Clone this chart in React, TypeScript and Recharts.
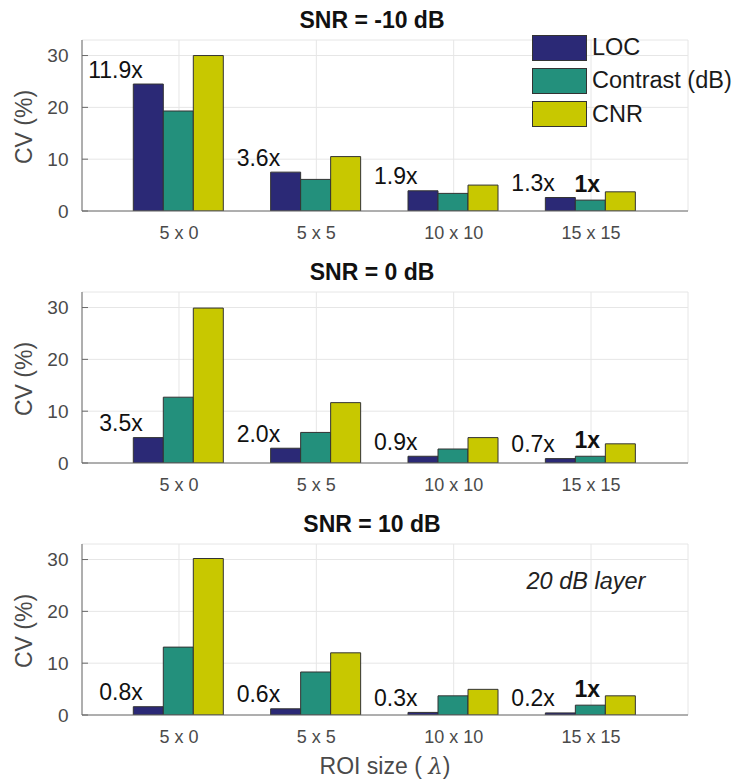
import React from 'react';
import { BarChart, Bar, XAxis, YAxis, CartesianGrid, Legend, LabelList } from 'recharts';

const categories = ['5 x 0', '5 x 5', '10 x 10', '15 x 15'];
const seriesNames = ['LOC', 'Contrast (dB)', 'CNR'];
const seriesColors = ['#2b2976', '#23907c', '#c8c800'];
const yTicks = [0, 10, 20, 30];

const snrM10Loc = [24.5, 7.5, 3.9, 2.6];
const snrM10Contrast = [19.3, 6.1, 3.4, 2.1];
const snrM10Cnr = [30.0, 10.5, 5.0, 3.7];
const snrM10Ratio = ['11.9x', '3.6x', '1.9x', '1.3x'];

const snr0Loc = [4.9, 2.85, 1.3, 0.85];
const snr0Contrast = [12.7, 5.9, 2.7, 1.3];
const snr0Cnr = [29.9, 11.65, 4.9, 3.7];
const snr0Ratio = ['3.5x', '2.0x', '0.9x', '0.7x'];

const snr10Loc = [1.6, 1.2, 0.5, 0.4];
const snr10Contrast = [13.1, 8.3, 3.7, 1.9];
const snr10Cnr = [30.2, 12.0, 4.95, 3.7];
const snr10Ratio = ['0.8x', '0.6x', '0.3x', '0.2x'];

const referenceMarks = ['', '', '', '1x'];
const panelTitles = ['SNR = -10 dB', 'SNR = 0 dB', 'SNR = 10 dB'];

const FONT = '"Liberation Sans", Arial, Helvetica, sans-serif';

const buildRows = (loc: number[], contrast: number[], cnr: number[], ratio: string[]) =>
  categories.map((c, i) => ({ cat: c, loc: loc[i], contrast: contrast[i], cnr: cnr[i], ratio: ratio[i], refMark: referenceMarks[i] }));

const panels = [
  buildRows(snrM10Loc, snrM10Contrast, snrM10Cnr, snrM10Ratio),
  buildRows(snr0Loc, snr0Contrast, snr0Cnr, snr0Ratio),
  buildRows(snr10Loc, snr10Contrast, snr10Cnr, snr10Ratio),
];

const renderYTick = (props: any) => {
  const { x, y, payload } = props;
  return (
    <g>
      <line x1={x} x2={x + 6} y1={y} y2={y} stroke="#6a6a6a" strokeWidth={1} />
      <text x={x - 13.5} y={y} dy="0.36em" textAnchor="end" fontSize={19} fill="#4a4a4a" fontFamily={FONT}>
        {payload.value}
      </text>
    </g>
  );
};

const renderXTick = (props: any) => {
  const { x, y, payload } = props;
  return (
    <text x={x} y={y + 28} textAnchor="middle" fontSize={18} fill="#4a4a4a" fontFamily={FONT}>
      {payload.value}
    </text>
  );
};

const renderRatio = (props: any) => {
  const { x, y, width, value } = props;
  if (!value) return null;
  return (
    <text x={Number(x) + Number(width) / 2 - 5.5} y={Number(y) - 6.5} textAnchor="end" fontSize={23} fill="#111" fontFamily={FONT}>
      {value}
    </text>
  );
};

const renderRefMark = (props: any) => {
  const { x, y, width, value } = props;
  if (!value) return null;
  return (
    <text x={Number(x) + Number(width) / 2 - 3} y={Number(y) - 8} textAnchor="middle" fontSize={23} fontWeight="bold" fill="#111" fontFamily={FONT}>
      {value}
    </text>
  );
};

const renderLegend = () => (
  <div style={{ fontFamily: FONT }}>
    {seriesNames.map((n, i) => (
      <div key={n} style={{ display: 'flex', alignItems: 'center', height: 25, marginBottom: 8.3 }}>
        <div style={{ width: 53, height: 24, background: seriesColors[i], border: '1px solid #333' }} />
        <span style={{ marginLeft: 5, fontSize: 23.5, color: '#1a1a1a', lineHeight: '25px', whiteSpace: 'nowrap' }}>{n}</span>
      </div>
    ))}
  </div>
);

const Panel = ({ index }: { index: number }) => {
  const data = panels[index];
  const last = index === 2;
  const height = last ? 279 : 252;
  return (
    <div style={{ position: 'absolute', left: 0, top: index * 252 }}>
      <BarChart
        width={741}
        height={height}
        data={data}
        margin={{ top: 40, right: 53, left: 0, bottom: 0 }}
        barCategoryGap={23}
        barGap={0}
      >
        <CartesianGrid stroke="#e6e6e6" strokeWidth={1} />
        <XAxis
          dataKey="cat"
          padding={{ left: 28.3, right: 28.3 }}
          height={last ? 68 : 41}
          tickSize={0}
          tickMargin={0}
          tick={renderXTick}
          axisLine={{ stroke: '#6a6a6a', strokeWidth: 1 }}
          tickLine={false}
          interval={0}
        />
        <YAxis
          width={82}
          domain={[0, 33]}
          ticks={yTicks}
          tickSize={0}
          tickMargin={0}
          tick={renderYTick}
          axisLine={{ stroke: '#6a6a6a', strokeWidth: 1 }}
          tickLine={false}
          allowDataOverflow
        />
        <Bar dataKey="loc" name={seriesNames[0]} fill={seriesColors[0]} stroke="#333" strokeWidth={1} isAnimationActive={false}>
          <LabelList dataKey="ratio" content={renderRatio} />
        </Bar>
        <Bar dataKey="contrast" name={seriesNames[1]} fill={seriesColors[1]} stroke="#333" strokeWidth={1} isAnimationActive={false}>
          <LabelList dataKey="refMark" content={renderRefMark} />
        </Bar>
        <Bar dataKey="cnr" name={seriesNames[2]} fill={seriesColors[2]} stroke="#333" strokeWidth={1} isAnimationActive={false} />
        {index === 0 && (
          <Legend
            layout="horizontal"
            verticalAlign="middle"
            align="center"
            content={renderLegend}
            wrapperStyle={{ position: 'absolute', left: 532, top: 35, width: 209, height: 100 }}
          />
        )}
        <g fontFamily={FONT}>
          <text x={372} y={28} textAnchor="middle" fontSize={23} fontWeight="bold" fill="#111">
            {panelTitles[index]}
          </text>
          <text
            x={24}
            y={127}
            textAnchor="middle"
            dy="0.35em"
            fontSize={23}
            fill="#4a4a4a"
            transform="rotate(-90, 24, 127)"
          >
            CV (%)
          </text>
          {last && (
            <text x={586} y={85} textAnchor="middle" fontSize={23.5} fontStyle="italic" fill="#222">
              20 dB layer
            </text>
          )}
          {last && (
            <text x={385} y={270} textAnchor="middle" fontSize={23} fill="#4a4a4a">
              ROI size ( <tspan fontStyle="italic" fontFamily="DejaVu Serif, serif">λ</tspan>)
            </text>
          )}
        </g>
      </BarChart>
    </div>
  );
};

export default function App() {
  return (
    <div style={{ position: 'absolute', left: 0, top: 0, width: 741, height: 783, background: '#fff', fontFamily: FONT }}>
      <Panel index={0} />
      <Panel index={1} />
      <Panel index={2} />
    </div>
  );
}
